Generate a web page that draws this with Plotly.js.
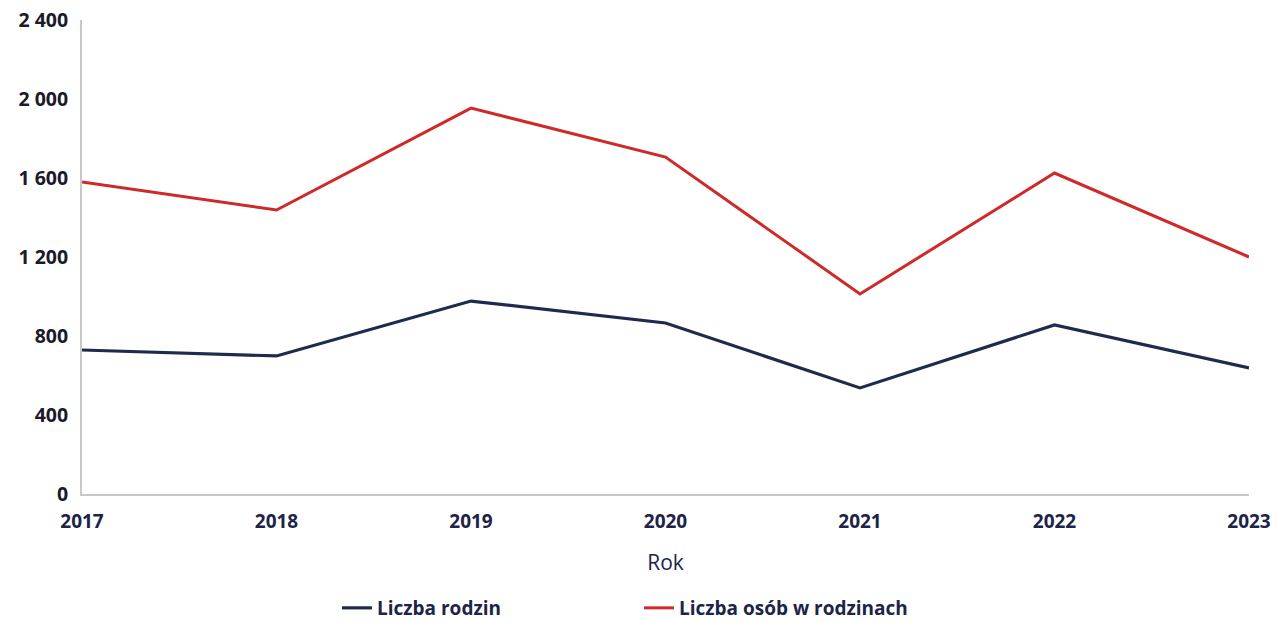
<!DOCTYPE html>
<html><head><meta charset="utf-8">
<script src="https://cdn.plot.ly/plotly-3.0.1.min.js"></script>
<style>html,body{margin:0;padding:0;background:#fff}#chart{width:1279px;height:622px}</style>
</head><body><div id="chart"></div>
<script>
const years = [2017, 2018, 2019, 2020, 2021, 2022, 2023];
const liczbaRodzin = [729, 699, 977, 866, 537, 856, 638];
const liczbaOsob = [1580, 1438, 1954, 1706, 1013, 1625, 1200];
const yTickVals = [0, 400, 800, 1200, 1600, 2000, 2400];
const yTickText = ['0', '400', '800', '1 200', '1 600', '2 000', '2 400'];
const seriesNames = ['Liczba rodzin', 'Liczba osób w rodzinach'];

const fontFam = '"Open Sans", "DejaVu Sans", sans-serif';
const navy = '#1c2447';
const traces = [
  {x: years, y: liczbaRodzin, name: seriesNames[0], type: 'scatter', mode: 'lines',
   line: {color: '#1d2c4c', width: 3.2}},
  {x: years, y: liczbaOsob, name: seriesNames[1], type: 'scatter', mode: 'lines',
   line: {color: '#cf2a2a', width: 3}}
];
const layout = {
  width: 1279, height: 622,
  margin: {l: 82, r: 30, t: 20, b: 128},
  paper_bgcolor: '#fff', plot_bgcolor: '#fff',
  showlegend: true,
  font: {family: fontFam, color: navy},
  xaxis: {
    range: [2017, 2023], tickvals: years, ticktext: years.map(String),
    showgrid: false, zeroline: false, showline: true, linecolor: '#c8c8c8', linewidth: 2,
    ticks: '', ticklabelstandoff: 9, automargin: false,
    tickfont: {family: fontFam, size: 19, color: navy, weight: 'bold'},
    title: {text: 'Rok', font: {family: fontFam, size: 21, color: navy}, standoff: 23}
  },
  yaxis: {
    range: [0, 2400], tickvals: yTickVals, ticktext: yTickText,
    showgrid: false, zeroline: false, showline: true, linecolor: '#c8c8c8', linewidth: 2,
    ticks: '', ticklabelstandoff: 8, automargin: false,
    tickfont: {family: fontFam, size: 19.5, color: '#1a1a2a', weight: 'bold'}
  },
  legend: {
    orientation: 'h', x: 0.2185, xanchor: 'left', xref: 'paper',
    y: 0.0225, yanchor: 'middle', yref: 'container',
    font: {family: fontFam, size: 19, color: navy, weight: 'bold'},
    entrywidth: 257, entrywidthmode: 'pixels', itemwidth: 30
  }
};
Plotly.newPlot('chart', traces, layout, {displayModeBar: false, staticPlot: true});
</script>
</body></html>
